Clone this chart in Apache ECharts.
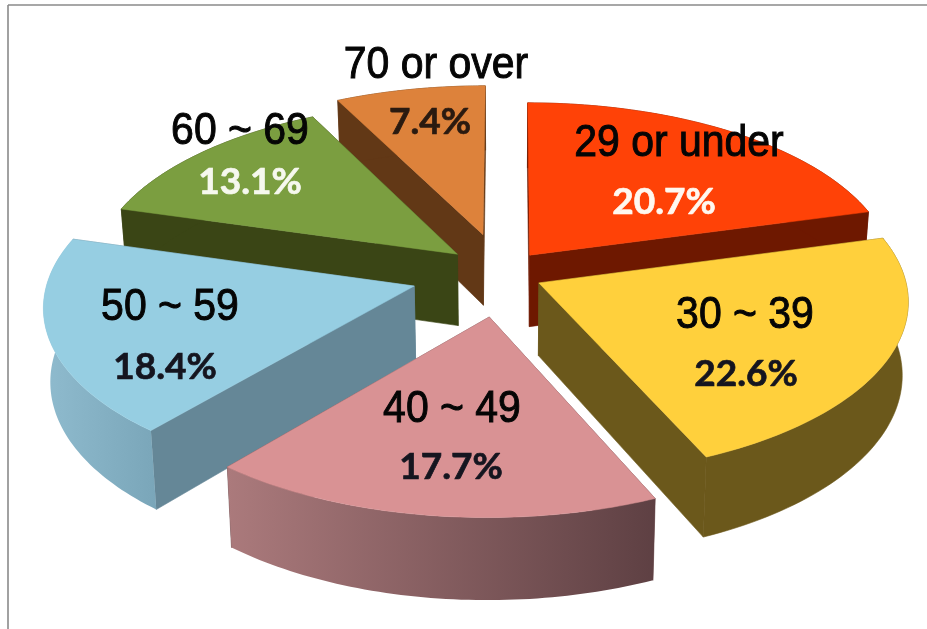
<!DOCTYPE html>
<html><head><meta charset="utf-8">
<style>html,body{margin:0;padding:0;background:#fff}#c{width:927px;height:629px}</style>
<script src="https://cdn.jsdelivr.net/npm/echarts@6/dist/echarts.min.js"></script>
</head><body><div id="c"></div>
<script>
const categories = ['29 or under','30 ~ 39','40 ~ 49','50 ~ 59','60 ~ 69','70 or over'];
const shares = [20.7,22.6,17.7,18.4,13.1,7.4];

// styling and layout, index-aligned with categories
const topColors  = ['#ff4207','#ffd03c','#d99294','#96cee2','#7b9e40','#dd823b'];
const wallColors = ['#6e1800','#6b581b','#6b4a4c','#658797','#3a4515','#623816'];
const arcGrad    = [null,null,['#ab7a7c','#5e4043'],['#8fbbce','#7aa6b9'],null,null];
const explodeX   = [0.06,0.084,-0.05,-0.255,-0.14,-0.07];
const explodeY   = [-0.076,0.087,0.28,0.105,-0.082,-0.2];
const paintRank  = [1,3,5,4,2,0];
const nameAt = [[679,144],[745,316],[452,410],[170,308],[240,132],[436,66]];
const pctAt  = [[664,202],[746,374],[451,467],[165,367],[250,182],[430,122]];
const pctColors = ['#fff8f0','#15151f','#15151f','#15151f','#f6f8ee','#2a1a10'];

const CX=508, CY=268, RX=364, RY=170, K=0.1, H=72, SHRINK=0.985;
const total = shares.reduce((a,b)=>a+b,0);
function proj(x,y,low){
  const w=1-K*y;
  if(!low) return [CX+RX*x/w, CY+RY*y/w];
  return [CX+SHRINK*RX*x/w, CY+(RY*y+H)/w];
}
function renderItem(params,api){
  const i=params.dataIndex;
  let before=0; for(let j=0;j<i;j++) before+=shares[j];
  const a0=before/total*2*Math.PI, a1=(before+api.value(0))/total*2*Math.PI;
  const ex=explodeX[i], ey=explodeY[i], n=60;
  const rim=[]; for(let s=0;s<=n;s++){const t=a0+(a1-a0)*s/n; rim.push([ex+Math.sin(t),ey-Math.cos(t)]);}
  const top=rim.map(p=>proj(p[0],p[1],false));
  const bot=rim.map(p=>proj(p[0],p[1],true));
  const apexT=proj(ex,ey,false), apexB=proj(ex,ey,true);
  const base=paintRank[i]*10;
  const w=wallColors[i];
  const g=arcGrad[i];
  const arcFill=g?new echarts.graphic.LinearGradient(0,0,1,0,[{offset:0,color:g[0]},{offset:1,color:g[1]}]):w;
  const kids=[];
  const faces=[[top[0],bot[0]],[top[n],bot[n]]];
  faces.sort((p,q)=>p[0][1]-q[0][1]);
  faces.forEach((f,k)=>kids.push({type:'polygon',z2:base+1+k,
    shape:{points:[apexT,f[0],f[1],apexB]},style:{fill:w,stroke:w,lineWidth:0.6}}));
  kids.push({type:'polygon',z2:base+4,shape:{points:top.concat(bot.slice().reverse())},
    style:{fill:arcFill,stroke:g?null:w,lineWidth:0.6}});
  kids.push({type:'polygon',z2:base+5,shape:{points:[apexT].concat(top)},
    style:{fill:topColors[i],stroke:topColors[i],lineWidth:0.5}});
  kids.push({type:'text',z2:1000,x:nameAt[i][0],y:nameAt[i][1],scaleX:0.91,
    style:{text:api.value(1),fontFamily:'Liberation Sans',fontSize:45,fill:'#050505',stroke:'#050505',lineWidth:1,align:'center',verticalAlign:'middle'}});
  kids.push({type:'text',z2:1000,x:pctAt[i][0],y:pctAt[i][1],
    style:{text:api.value(0).toFixed(1)+'%',fontFamily:'Lato',fontWeight:700,fontSize:37,fill:pctColors[i],stroke:pctColors[i],lineWidth:0.7,align:'center',verticalAlign:'middle'}});
  return {type:'group',children:kids};
}
const chart=echarts.init(document.getElementById('c'),null,{renderer:'canvas'});
chart.setOption({
  animation:false,
  backgroundColor:'#ffffff',
  graphic:[
    {type:'line',shape:{x1:8,y1:5,x2:927,y2:5},style:{stroke:'#8a8a8a',lineWidth:1.6}},
    {type:'line',shape:{x1:8,y1:5,x2:8,y2:629},style:{stroke:'#8a8a8a',lineWidth:1.6}}
  ],
  series:[{type:'custom',coordinateSystem:'none',renderItem,
    data:categories.map((c,i)=>[shares[i],c])}]
});
</script></body></html>
